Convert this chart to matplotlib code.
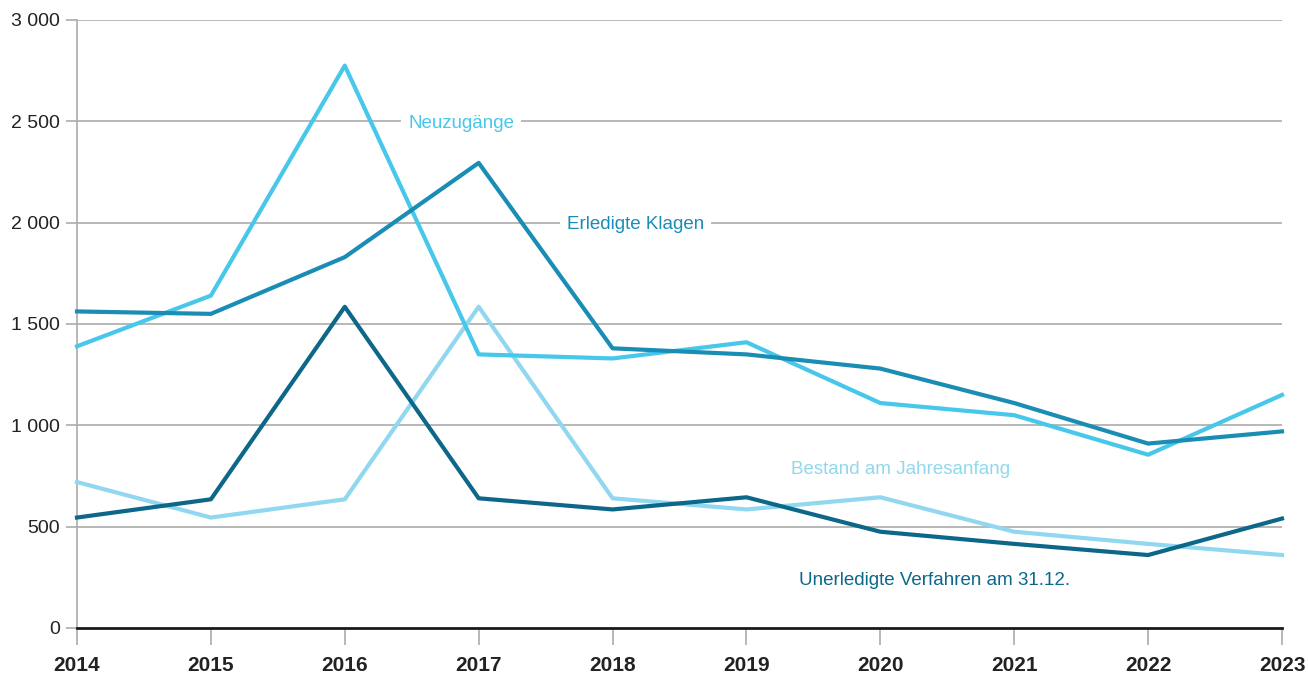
import numpy as np
import matplotlib.pyplot as plt

# =====================================================
# Data
# =====================================================
years = [2014, 2015, 2016, 2017, 2018, 2019, 2020, 2021, 2022, 2023]

neuzugaenge = [1390, 1640, 2775, 1350, 1330, 1410, 1110, 1050, 855, 1150]
erledigte_klagen = [1562, 1550, 1830, 2295, 1380, 1350, 1280, 1110, 910, 970]
unerledigte = [545, 635, 1585, 640, 585, 645, 475, 415, 360, 540]
bestand = [720, 545, 635, 1585, 640, 585, 645, 475, 415, 360]

y_ticks = [0, 500, 1000, 1500, 2000, 2500, 3000]

c_neu = "#47C7EA"
c_erl = "#1A8DB4"
c_une = "#0D6789"
c_bes = "#90D7EF"
c_grid = "#ABABAB"

plt.rcParams["font.family"] = ["Liberation Sans", "DejaVu Sans"]

fig = plt.figure(figsize=(13.08, 6.75), dpi=100)
ax = fig.add_axes([77 / 1308, 1 - 628 / 675, (1282 - 77) / 1308, (628 - 20) / 675])

# grid lines
for v in y_ticks[1:]:
    ax.axhline(v, color=c_grid, lw=1.2, zorder=1)
ax.axhline(0, color="#1a1a1a", lw=2, zorder=5, clip_on=False)

lw = 3.0
ax.plot(years, bestand, color=c_bes, lw=lw, zorder=3, clip_on=False)
ax.plot(years, unerledigte, color=c_une, lw=lw, zorder=4, clip_on=False)
ax.plot(years, neuzugaenge, color=c_neu, lw=lw, zorder=3, clip_on=False)
ax.plot(years, erledigte_klagen, color=c_erl, lw=lw, zorder=4, clip_on=False)

ax.set_xlim(2014, 2023)
ax.set_ylim(0, 3000)

ax.set_yticks(y_ticks)
ax.set_yticklabels([f"{v:,}".replace(",", " ") for v in y_ticks])
ax.set_xticks(years)
ax.set_xticklabels([str(y) for y in years], fontweight="bold")

ax.tick_params(axis="y", length=8, width=1.2, color=c_grid, labelsize=14,
               labelcolor="#222222", pad=4)
ax.tick_params(axis="x", length=12, width=1.2, color=c_grid, labelsize=15,
               labelcolor="#222222", pad=8)

for side in ["top", "right", "bottom"]:
    ax.spines[side].set_visible(False)
ax.spines["left"].set_color(c_grid)
ax.spines["left"].set_linewidth(1.2)

# series labels
box = dict(facecolor="white", edgecolor="none", pad=5)
ax.text(2016.87, 2490, "Neuzugänge", color=c_neu, fontsize=13.5,
        ha="center", va="center", bbox=box, zorder=2)
ax.text(2018.17, 1990, "Erledigte Klagen", color=c_erl, fontsize=13.5,
        ha="center", va="center", bbox=box, zorder=2)
ax.text(2019.33, 782, "Bestand am Jahresanfang", color=c_bes, fontsize=13.5,
        ha="left", va="center", zorder=2)
ax.text(2019.39, 235, "Unerledigte Verfahren am 31.12.", color=c_une, fontsize=13.5,
        ha="left", va="center", zorder=2)

fig.savefig("out.png", dpi=100)
plt.close(fig)
